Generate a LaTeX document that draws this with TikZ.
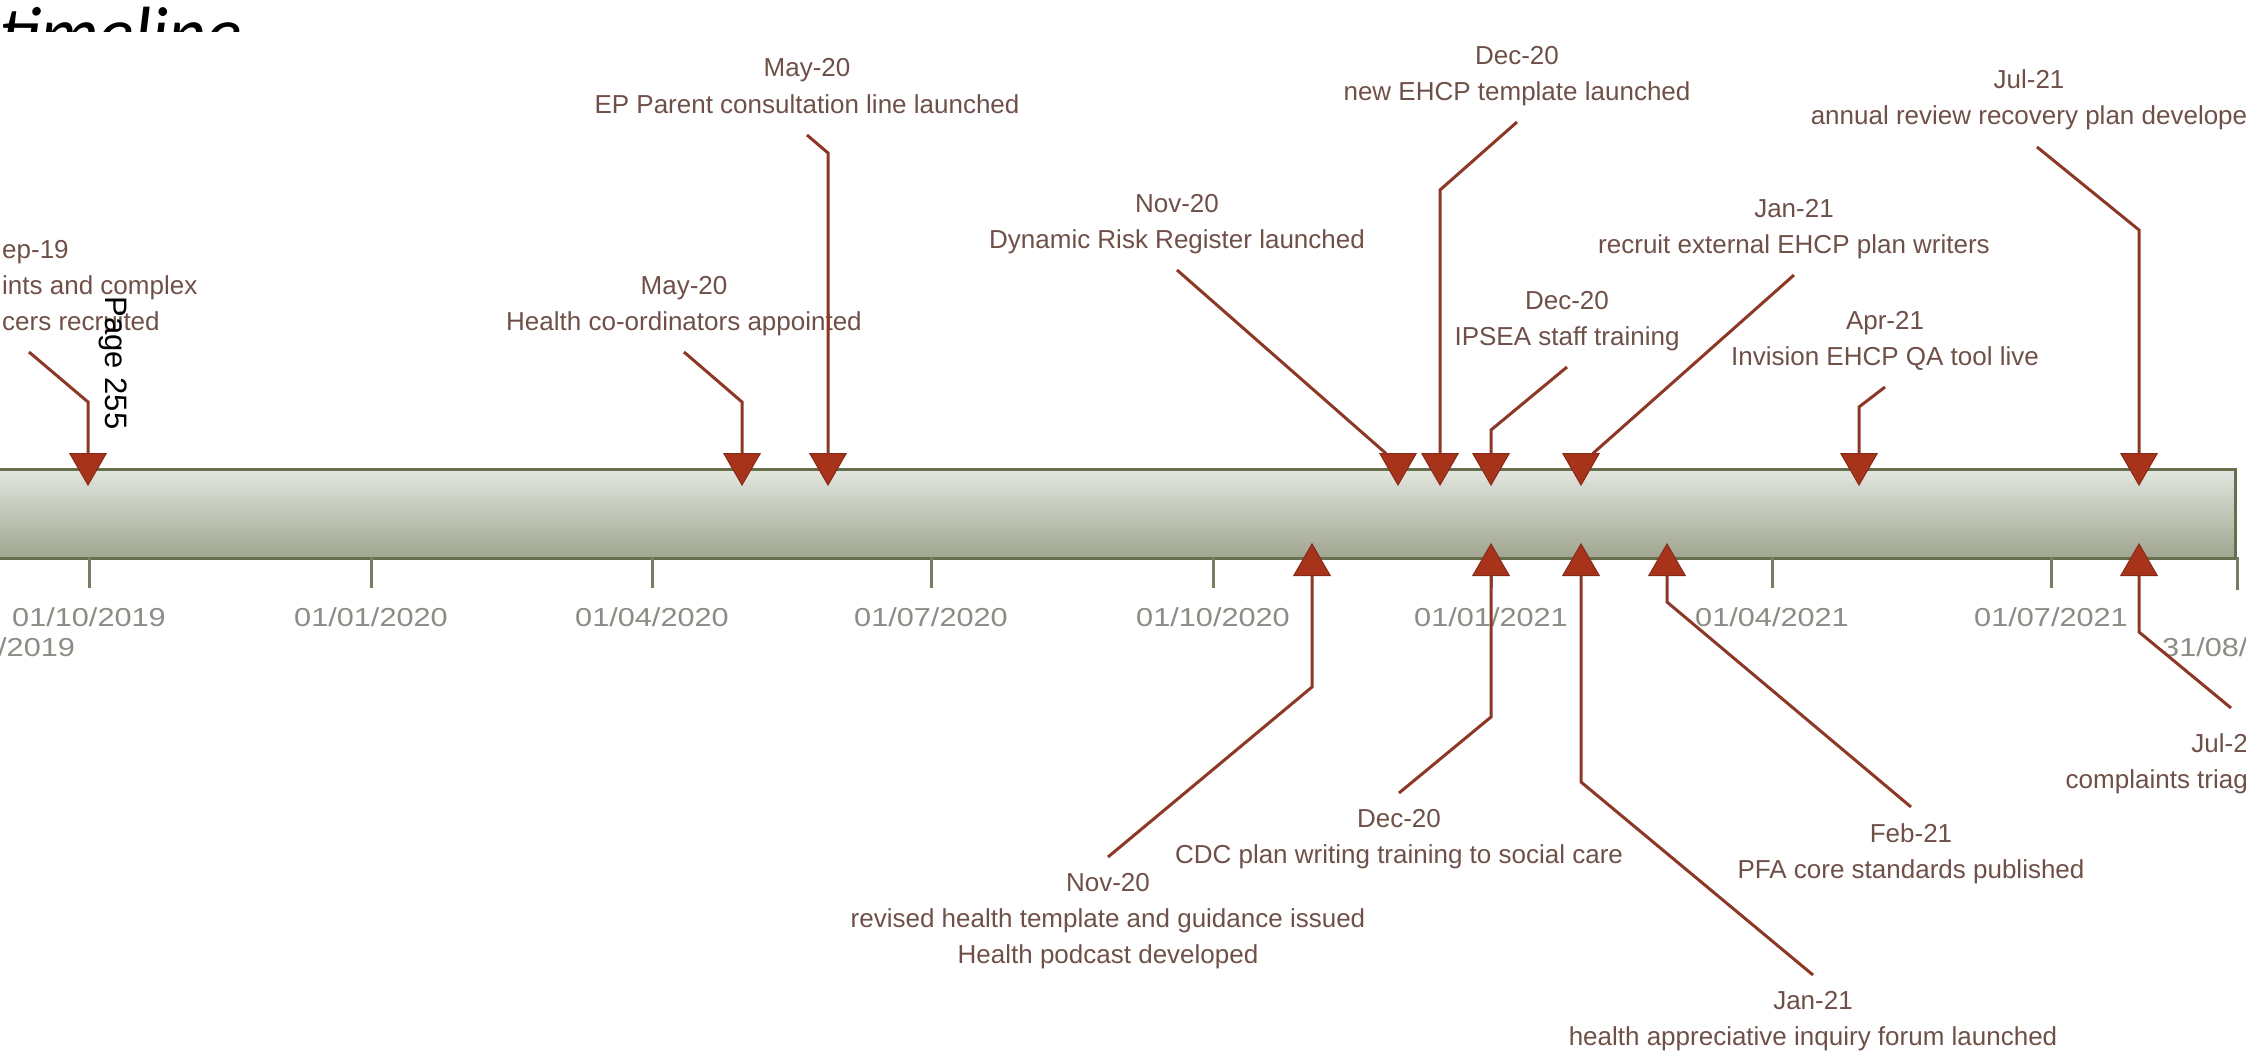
\documentclass[tikz,border=0pt]{standalone}
\usepackage{fontspec}
\setmainfont{Liberation Sans}
\newfontfamily\tickfont{Liberation Sans}[FakeStretch=1.18]
\newfontfamily\titlefont{Carlito}
\usetikzlibrary{positioning,shapes.geometric}
\definecolor{tlred}{HTML}{A8331B}
\definecolor{tlline}{HTML}{8C3825}
\definecolor{tltext}{HTML}{6F5048}
\definecolor{tlgrey}{HTML}{8B8D85}
\definecolor{tlolive}{HTML}{66704F}
\definecolor{tlbartop}{HTML}{E2E6DF}
\definecolor{tlbarmid}{HTML}{CDD3C9}
\definecolor{tlbarbot}{HTML}{9FA58F}
\tikzset{
  tlbar/.style ={rectangle, draw=tlolive, line width=3pt, top color=tlbartop,
                 middle color=tlbarmid, bottom color=tlbarbot, inner sep=0pt},
  tkline/.style={draw=tlolive!90, line width=3pt},
  tklbl/.style ={font=\tickfont\fontsize{26}{30}\selectfont, text=tlgrey, inner sep=0pt},
  evlbl/.style ={align=center, font=\fontsize{26}{36}\selectfont, text=tltext,
                 inner sep=0pt, execute at begin node=\strut, execute at end node=\strut},
  mkdn/.style  ={regular polygon, regular polygon sides=3, shape border rotate=180,
                 fill=tlred, draw=tlred!80!black, line width=1pt, minimum size=42pt,
                 inner sep=0pt, outer sep=0pt},
  mkup/.style  ={mkdn, shape border rotate=0},
  lead/.style  ={draw=tlline, line width=3pt},
  ttl/.style   ={font=\titlefont\itshape\fontsize{74}{74}\selectfont, anchor=base west, inner sep=0pt},
  pgstamp/.style={font=\fontsize{31}{31}\selectfont, rotate=-90, inner sep=0pt}
}

\begin{document}
\begin{tikzpicture}[x=1pt,y=1pt]
  \useasboundingbox (0,0) rectangle (2246,-1057);
  \clip (0,0) rectangle (2246,-1057);

  % slide title, cut off by the chart
  \begin{scope}
    \clip (0,0) rectangle (320,-32);
    \node[ttl] (title) at (-1,-59) {timeline};
  \end{scope}

  % the time bar and its scale
  \node[tlbar, minimum width=2250pt, minimum height=89pt, anchor=north east] (bar) at (2237,-468) {};
  \draw[tkline] (89,-557) -- (89,-588);
  \draw[tkline] (371,-557) -- (371,-588);
  \draw[tkline] (652,-557) -- (652,-588);
  \draw[tkline] (931,-557) -- (931,-588);
  \draw[tkline] (1213,-557) -- (1213,-588);
  \draw[tkline] (1491,-557) -- (1491,-588);
  \draw[tkline] (1772,-557) -- (1772,-588);
  \draw[tkline] (2051,-557) -- (2051,-588);
  \draw[tkline] (2237,-557) -- (2237,-590);
  \node[tklbl] (d1) at (89,-617) {01/10/2019};
  \node[tklbl] (d2) at (371,-617) {01/01/2020};
  \node[tklbl] (d3) at (652,-617) {01/04/2020};
  \node[tklbl] (d4) at (931,-617) {01/07/2020};
  \node[tklbl] (d5) at (1213,-617) {01/10/2020};
  \node[tklbl] (d6) at (1491,-617) {01/01/2021};
  \node[tklbl] (d7) at (1772,-617) {01/04/2021};
  \node[tklbl] (d8) at (2051,-617) {01/07/2021};
  \node[tklbl, anchor=west] (d0) at (-2,-647) {/2019};
  \node[tklbl, anchor=west] (d9) at (2162,-647) {31/08/};

  % markers on the bar
  \node[mkdn] (m1) at (88,-464) {};
  \node[mkdn] (m2) at (742,-464) {};
  \node[mkdn] (m3) at (828,-464) {};
  \node[mkdn] (m4) at (1398,-464) {};
  \node[mkdn] (m5) at (1440,-464) {};
  \node[mkdn] (m6) at (1491,-464) {};
  \node[mkdn] (m7) at (1581,-464) {};
  \node[mkdn] (m8) at (1859,-464) {};
  \node[mkdn] (m9) at (2139,-464) {};
  \node[mkup] (n1) at (1312,-565) {};
  \node[mkup] (n2) at (1491,-565) {};
  \node[mkup] (n3) at (1581,-565) {};
  \node[mkup] (n4) at (1667,-565) {};
  \node[mkup] (n5) at (2139,-565) {};

  % events above
  \coordinate (a1) at (29,-352);
  \node[evlbl, align=left, anchor=south west] (l1) at (2,-341) {ep-19\\ints and complex\\cers recruited};
  \draw[lead] (a1) -- ([yshift=62pt]m1.center) -- (m1);

  \coordinate (a2) at (684,-352);
  \node[evlbl, above=11pt of a2] (l2) {May-20\\Health co-ordinators appointed};
  \draw[lead] (a2) -- ([yshift=62pt]m2.center) -- (m2);

  \coordinate (a3) at (807,-135);
  \node[evlbl, above=11pt of a3] (l3) {May-20\\EP Parent consultation line launched};
  \draw[lead] (a3) -- ([yshift=311pt]m3.center) -- (m3);

  \coordinate (a4) at (1177,-270);
  \node[evlbl, above=11pt of a4] (l4) {Nov-20\\Dynamic Risk Register launched};
  \draw[lead] (a4) -- (m4);

  \coordinate (a5) at (1517,-122);
  \node[evlbl, above=11pt of a5] (l5) {Dec-20\\new EHCP template launched};
  \draw[lead] (a5) -- ([yshift=274pt]m5.center) -- (m5);

  \coordinate (a6) at (1567,-367);
  \node[evlbl, above=11pt of a6] (l6) {Dec-20\\IPSEA staff training};
  \draw[lead] (a6) -- ([yshift=34pt]m6.center) -- (m6);

  \coordinate (a7) at (1794,-275);
  \node[evlbl, above=11pt of a7] (l7) {Jan-21\\recruit external EHCP plan writers};
  \draw[lead] (a7) -- (m7);

  \coordinate (a8) at (1885,-387);
  \node[evlbl, above=11pt of a8] (l8) {Apr-21\\Invision EHCP QA tool live};
  \draw[lead] (a8) -- ([yshift=57pt]m8.center) -- (m8);

  \coordinate (a9) at (2037,-147);
  \node[evlbl, above=11pt of a9, xshift=-8pt] (l9) {Jul-21\\annual review recovery plan develope};
  \draw[lead] (a9) -- ([yshift=234pt]m9.center) -- (m9);

  % events below
  \coordinate (c1) at (1108,-857);
  \node[evlbl, below=16pt of c1] (k1) {Nov-20\\revised health template and guidance issued\\Health podcast developed};
  \draw[lead] (c1) -- ([yshift=-122pt]n1.center) -- (n1);

  \coordinate (c2) at (1399,-793);
  \node[evlbl, below=16pt of c2] (k2) {Dec-20\\CDC plan writing training to social care};
  \draw[lead] (c2) -- ([yshift=-152pt]n2.center) -- (n2);

  \coordinate (c3) at (1813,-975);
  \node[evlbl, below=16pt of c3] (k3) {Jan-21\\health appreciative inquiry forum launched};
  \draw[lead] (c3) -- ([yshift=-217pt]n3.center) -- (n3);

  \coordinate (c4) at (1911,-807);
  \node[evlbl, below=16pt of c4] (k4) {Feb-21\\PFA core standards published};
  \draw[lead] (c4) -- ([yshift=-37pt]n4.center) -- (n4);

  \coordinate (c5) at (2231,-708);
  \node[evlbl, align=right, anchor=north east] (k5) at (2248,-733) {Jul-2\\complaints triag};
  \draw[lead] (c5) -- ([yshift=-67pt]n5.center) -- (n5);

  \node[pgstamp] (page) at (113,-363) {Page 255};
\end{tikzpicture}
\end{document}
